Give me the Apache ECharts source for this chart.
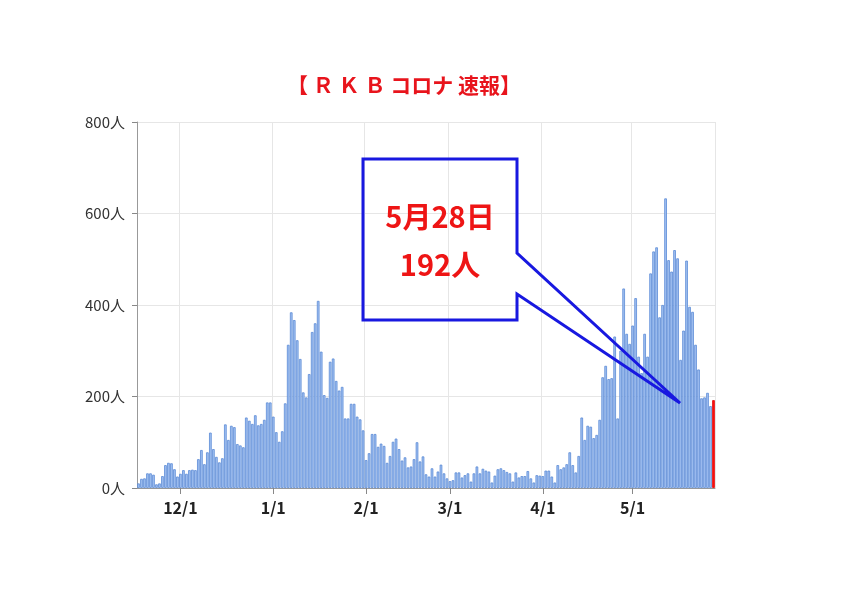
<!DOCTYPE html>
<html><head><meta charset="utf-8">
<script src="https://cdn.jsdelivr.net/npm/echarts@6/dist/echarts.min.js"></script>
<style>html,body{margin:0;padding:0;background:#fff}#c{width:856px;height:606px}</style>
</head><body><div id="c"></div>
<script>
// month, first day, last day shown
const monthSpans = [[11,17,30],[12,1,31],[1,1,31],[2,1,28],[3,1,31],[4,1,30],[5,1,28]];
const categories = [];
for (const [m, a, b] of monthSpans) for (let d = a; d <= b; d++) categories.push(m + '/' + d);

const cases = [
 10,20,21,32,32,29,8,10,26,50,55,54,41,25,
 31,39,31,39,40,39,63,83,52,78,121,85,68,56,65,139,105,136,133,96,93,89,154,147,140,159,137,140,149,187,187,
 156,122,101,124,185,313,384,367,323,282,209,198,249,341,360,409,298,203,197,276,283,234,213,221,152,152,184,184,156,150,126,
 61,76,118,118,90,97,92,55,70,101,108,85,60,67,45,47,63,100,58,69,30,25,43,25,36,51,32,21,
 15,17,34,34,23,28,32,14,32,47,32,42,38,36,12,27,41,43,39,35,32,14,34,23,26,26,37,21,12,28,27,
 26,38,38,25,12,50,41,45,52,78,50,34,70,154,105,136,134,109,116,149,242,267,238,240,331,152,300,436,337,315,
 355,415,287,251,337,287,469,517,526,373,400,633,498,473,520,502,280,344,497,396,385,313,259,196,198,208,179,192
];
const yTicks = [0, 800, 200];          // min, max, step
const yUnit = '人';
const titleText = '【 Ｒ Ｋ Ｂ コロナ 速報】';
const calloutLines = ['5月28日', '192人'];

const FONT = "'Noto Sans CJK JP','Noto Sans',sans-serif";
const isMonthStart = (i) => /\/1$/.test(categories[i]);

const chart = echarts.init(document.getElementById('c'), null, {renderer: 'canvas'});
chart.setOption({
  animation: false,
  backgroundColor: '#fff',
  grid: {left: 137, right: 141, top: 122, bottom: 118},
  xAxis: {
    type: 'category',
    data: categories,
    boundaryGap: true,
    axisLine: {show: true, lineStyle: {color: '#999', width: 1}},
    axisTick: {show: true, alignWithLabel: true, interval: (i) => isMonthStart(i), length: 6, lineStyle: {color: '#888'}},
    axisLabel: {interval: (i) => isMonthStart(i), color: '#222', fontSize: 16, fontWeight: 'bold', fontFamily: FONT, margin: 12},
    splitLine: {show: true, interval: (i) => isMonthStart(i), lineStyle: {color: '#e6e6e6'}}
  },
  yAxis: {
    type: 'value',
    min: yTicks[0], max: yTicks[1], interval: yTicks[2],
    axisLine: {show: true, lineStyle: {color: '#999', width: 1}},
    axisTick: {show: true, length: 5, lineStyle: {color: '#888'}},
    axisLabel: {formatter: (v) => v + yUnit, color: '#333', fontSize: 15, fontFamily: FONT, margin: 12},
    splitLine: {show: true, lineStyle: {color: '#e6e6e6'}}
  },
  series: [{
    type: 'bar',
    data: cases.map((v, i) => i === cases.length - 1
      ? {value: v, itemStyle: {color: '#ff1010', borderColor: '#e00000'}}
      : v),
    barCategoryGap: '12%',
    itemStyle: {color: '#a3c2f2', borderColor: '#5a8ad6', borderWidth: 0.8},
    z: 2
  }],
  graphic: [
    {type: 'text', x: 404, y: 85, z: 10,
     style: {text: titleText, fill: '#e8141c', font: 'bold 21px ' + FONT, textAlign: 'center', textVerticalAlign: 'middle'}},
    {type: 'polygon', z: 10,
     shape: {points: [[363,159],[517,159],[517,253],[680,403],[517,294],[517,320],[363,320]]},
     style: {fill: 'none', stroke: '#1818e0', lineWidth: 3, lineJoin: 'miter'}},
    {type: 'text', x: 440, y: 217, z: 11,
     style: {text: calloutLines[0], fill: '#ee1515', font: 'bold 29px ' + FONT, textAlign: 'center', textVerticalAlign: 'middle'}},
    {type: 'text', x: 440, y: 265, z: 11,
     style: {text: calloutLines[1], fill: '#ee1515', font: 'bold 29px ' + FONT, textAlign: 'center', textVerticalAlign: 'middle'}}
  ]
});
</script>
</body></html>
